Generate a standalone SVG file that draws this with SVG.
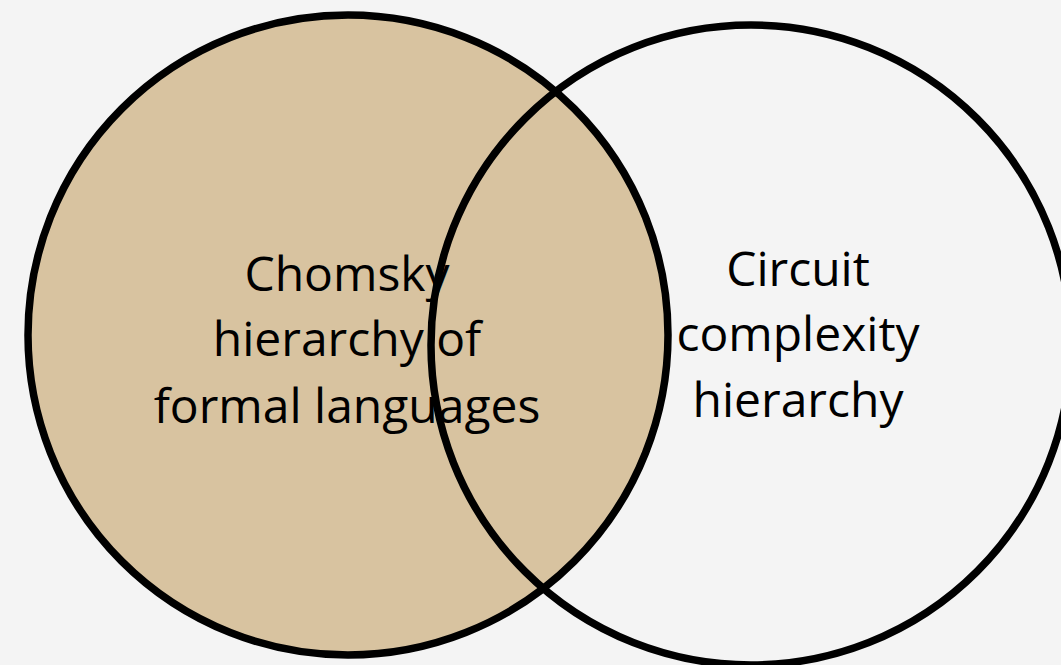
<svg xmlns="http://www.w3.org/2000/svg" width="1061" height="665" viewBox="0 0 1061 665">
  <style>
    .lbl { font-family: "Open Sans", "Noto Sans", "Liberation Sans", sans-serif; font-size: 48px; fill: #000; text-anchor: middle; }
    .ring { fill: none; stroke: #000; stroke-width: 7.5; }
  </style>
  <rect x="0" y="0" width="1061" height="665" fill="#f4f4f4"/>
  <g id="circuit">
    <circle cx="751" cy="345" r="320" fill="#f4f4f4"/>
    <text class="lbl" x="798" y="286">Circuit</text>
    <text class="lbl" x="798" y="351">complexity</text>
    <text class="lbl" x="798" y="417">hierarchy</text>
  </g>
  <g id="chomsky">
    <circle cx="348" cy="335" r="320" fill="#d8c3a0"/>
    <text class="lbl" x="347" y="291">Chomsky</text>
    <text class="lbl" x="347" y="356">hierarchy of</text>
    <text class="lbl" x="347" y="423">formal languages</text>
  </g>
  <g id="outlines">
    <circle class="ring" cx="751" cy="345" r="320"/>
    <circle class="ring" cx="348" cy="335" r="320"/>
  </g>
</svg>
